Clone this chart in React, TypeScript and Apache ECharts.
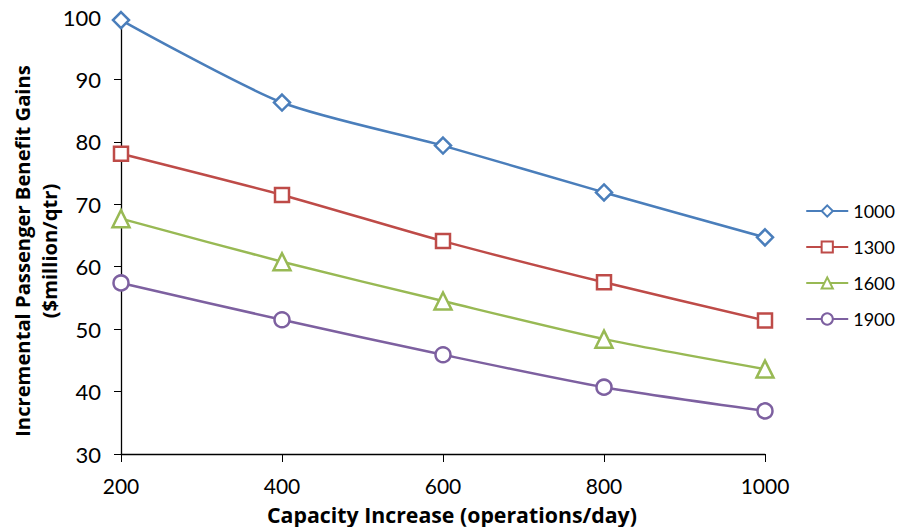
import React, { useEffect, useRef } from "react";
import * as echarts from "echarts";

const capacity = [200, 400, 600, 800, 1000];
const seriesNames = ["1000", "1300", "1600", "1900"];
const s1000 = [99.5, 86.3, 79.4, 71.9, 64.7];
const s1300 = [78.1, 71.5, 64.1, 57.5, 51.4];
const s1600 = [67.7, 60.8, 54.5, 48.4, 43.6];
const s1900 = [57.4, 51.5, 45.9, 40.7, 36.9];
const yTicks = [30, 40, 50, 60, 70, 80, 90, 100];
const xTitle = "Capacity Increase (operations/day)";
const yTitle1 = "Incremental Passenger Benefit Gains";
const yTitle2 = "($million/qtr)";

const colors = ["#4A7EBB", "#BE4B48", "#98B954", "#7D60A0"];
const symbols = ["diamond", "rect", "triangle", "circle"];
const symbolSizes = [16, 14, 17, 15];
const allData = [s1000, s1300, s1600, s1900];

const FONT = "Lato, 'Open Sans', sans-serif";
const TFONT = "'Open Sans', sans-serif";

export default function App() {
  const ref = useRef<HTMLDivElement>(null);
  useEffect(() => {
    if (!ref.current) return;
    const chart = echarts.init(ref.current, undefined, { renderer: "svg" });
    chart.setOption({
      animation: false,
      backgroundColor: "#ffffff",
      textStyle: { fontFamily: FONT },
      grid: {
        left: 121,
        right: 136,
        top: 17,
        bottom: 73,
        containLabel: false,
        outerBoundsMode: "none",
      },
      graphic: [
        {
          type: "text",
          x: 452,
          y: 514,
          style: {
            text: xTitle,
            fontSize: 21.3,
            lineHeight: 20,
            fontWeight: "bold",
            fontFamily: TFONT,
            fill: "#000",
            align: "center",
            verticalAlign: "middle",
          },
        },
        {
          type: "text",
          x: 22,
          y: 251,
          rotation: Math.PI / 2,
          style: {
            text: yTitle1,
            fontSize: 20.2,
            lineHeight: 22,
            fontWeight: "bold",
            fontFamily: TFONT,
            fill: "#000",
            align: "center",
            verticalAlign: "middle",
          },
        },
        {
          type: "text",
          x: 49,
          y: 251,
          rotation: Math.PI / 2,
          style: {
            text: yTitle2,
            fontSize: 20.2,
            lineHeight: 22,
            fontWeight: "bold",
            fontFamily: TFONT,
            fill: "#000",
            align: "center",
            verticalAlign: "middle",
          },
        },
      ],
      legend: {
        orient: "vertical",
        right: 1,
        top: 197,
        itemWidth: 42,
        itemHeight: 14,
        itemGap: 18,
        data: seriesNames,
        textStyle: { fontSize: 18, color: "#000", fontFamily: FONT },
      },
      xAxis: {
        type: "value",
        min: 200,
        max: 1000,
        interval: 200,
        axisLine: { show: true, lineStyle: { color: "#000", width: 1.3 } },
        axisTick: { show: true, inside: false, length: 8, lineStyle: { color: "#000" } },
        axisLabel: {
          fontSize: 21,
          lineHeight: 20,
          color: "#000",
          margin: 21,
          fontFamily: FONT,
          formatter: (v: number) => String(v),
        },
        splitLine: { show: false },
      },
      yAxis: {
        type: "value",
        min: 30,
        max: 100,
        interval: 10,
        axisLine: { show: true, lineStyle: { color: "#000", width: 1.3 } },
        axisTick: { show: true, inside: false, length: 7, lineStyle: { color: "#000" } },
        axisLabel: {
          fontSize: 22,
          color: "#000",
          margin: 20,
          fontFamily: FONT,
          formatter: (v: number) => (yTicks.includes(v) ? String(v) : ""),
        },
        splitLine: { show: false },
      },
      series: seriesNames.map((name, i) => ({
        name,
        type: "line",
        smooth: 0.25,
        data: capacity.map((c, j) => [c, allData[i][j]]),
        symbol: symbols[i],
        symbolSize: symbolSizes[i],
        showAllSymbol: true,
        lineStyle: { color: colors[i], width: 2.5 },
        itemStyle: { color: "#ffffff", borderColor: colors[i], borderWidth: 2.5 },
        z: 10 - i,
      })),
    });
    return () => chart.dispose();
  }, []);
  return (
    <div
      ref={ref}
      style={{ position: "fixed", left: 0, top: 0, width: 901, height: 527 }}
    />
  );
}
